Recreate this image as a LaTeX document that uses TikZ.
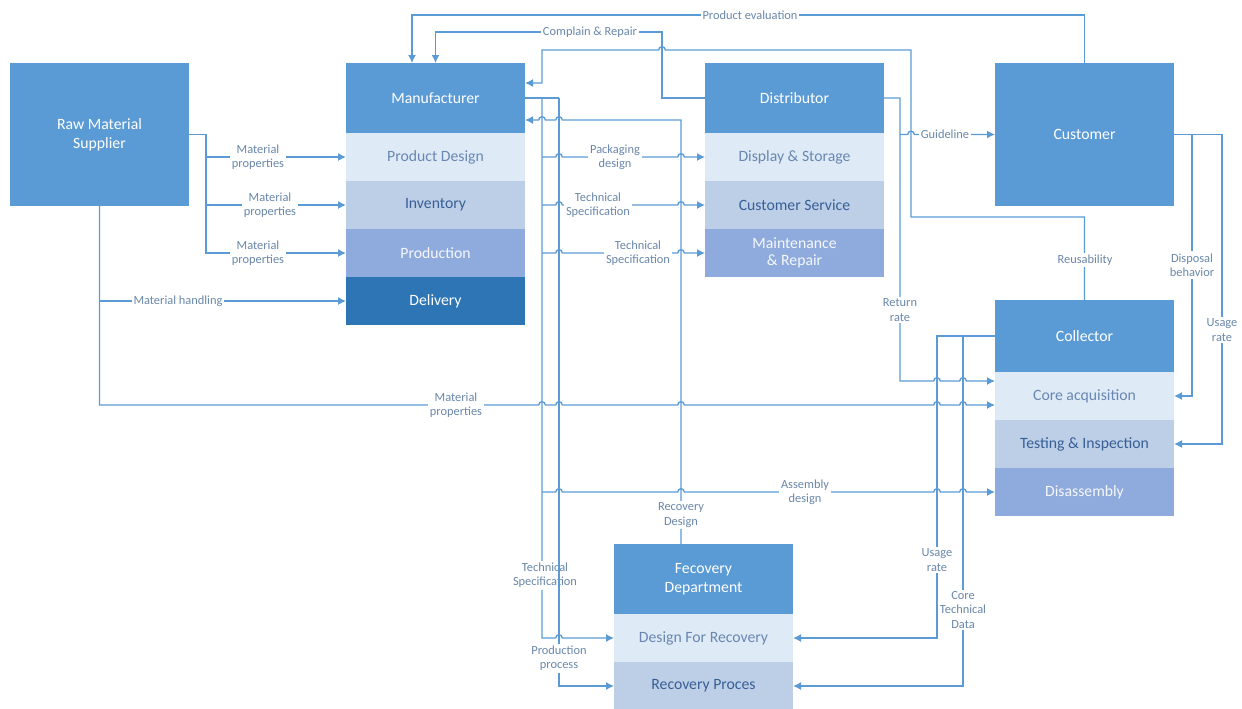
\documentclass[tikz,border=0pt]{standalone}
\usepackage{fontspec}
\setmainfont{Carlito}
\usetikzlibrary{positioning,arrows.meta}
\definecolor{hdr}{RGB}{91,155,213}
\definecolor{rowA}{RGB}{222,234,246}
\definecolor{rowB}{RGB}{189,206,231}
\definecolor{rowC}{RGB}{143,170,220}
\definecolor{rowD}{RGB}{46,117,182}
\definecolor{wire}{RGB}{91,155,213}
\definecolor{lbltxt}{RGB}{105,135,170}
\definecolor{rowAtxt}{RGB}{105,135,178}
\definecolor{rowBtxt}{RGB}{55,95,150}
% hops over a crossing line
\newcommand{\jr}[1]{-- ([xshift=-2.5pt]#1) arc[start angle=180,end angle=0,radius=2.5pt]}
\newcommand{\jl}[1]{-- ([xshift=2.5pt]#1) arc[start angle=0,end angle=180,radius=2.5pt]}
\begin{document}
\begin{tikzpicture}[x=0.75pt, y=-0.75pt, >={Latex[length=6pt,width=6pt]},
    color=wire, line width=1pt,
    box/.style={rectangle, fill=hdr, text=white, minimum width=134.25pt, inner sep=0pt,
      outer sep=0pt, align=center, font=\fontsize{11.8}{14}\selectfont},
    head/.style={box, minimum height=52.5pt},
    big/.style={box, minimum height=107.25pt},
    rowa/.style={box, minimum height=36pt, fill=rowA, text=rowAtxt},
    rowb/.style={box, minimum height=36pt, fill=rowB, text=rowBtxt},
    rowc/.style={box, minimum height=36pt, fill=rowC, text=white!92!rowC},
    rowd/.style={box, minimum height=36pt, fill=rowD},
    lbl/.style={fill=white, text=lbltxt, inner sep=1.5pt, align=center,
      font=\fontsize{9.3}{10.8}\selectfont}]
  \useasboundingbox (0,0) rectangle (1242,708);
  % blocks
  \node[big, anchor=north west] (sup) at (10,63) {Raw Material\\Supplier};
  \node[head, anchor=north west] (man) at (346,63) {Manufacturer};
  \node[rowa, below=0pt of man] (pd) {Product Design};
  \node[rowb, below=0pt of pd] (inv) {Inventory};
  \node[rowc, below=0pt of inv] (prod) {Production};
  \node[rowd, below=0pt of prod] (deliv) {Delivery};
  \node[head, anchor=north west] (dist) at (705,63) {Distributor};
  \node[rowa, below=0pt of dist] (disp) {Display \& Storage};
  \node[rowb, below=0pt of disp] (csrv) {Customer Service};
  \node[rowc, below=0pt of csrv, font=\fontsize{11.8}{13}\selectfont] (maint) {Maintenance\\\& Repair};
  \node[big, anchor=north west] (cust) at (995,63) {Customer};
  \node[head, anchor=north west, minimum height=54pt] (coll) at (995,300) {Collector};
  \node[rowa, below=0pt of coll] (core) {Core acquisition};
  \node[rowb, below=0pt of core] (test) {Testing \& Inspection};
  \node[rowc, below=0pt of test] (disas) {Disassembly};
  \node[head, anchor=north west] (rdep) at (614,544) {Fecovery\\Department};
  \node[rowa, below=0pt of rdep] (dfr) {Design For Recovery};
  \node[rowb, below=0pt of dfr] (rproc) {Recovery Proces};
  % supplier to manufacturer and collector
  \coordinate (sx) at (206,134.5);
  \coordinate (sb) at (99.5,405);
  \draw[->] (sup.east) -- (sx) |- (prod.west);
  \draw[->] (sx |- pd.west) -- (pd.west);
  \draw[->] (sx |- inv.west) -- (inv.west);
  \draw[->] (sup.south) |- (deliv.west);
  \draw[->] (sup.south) -- (sb) \jr{542,405} \jr{559,405} \jr{681,405} \jr{937,405} \jr{963,405} -- (995,405);
  \node[lbl] at (258,157) {Material\\properties};
  \node[lbl] at (270,205) {Material\\properties};
  \node[lbl] at (258,253) {Material\\properties};
  \node[lbl] at (178,301) {Material handling};
  \node[lbl] at (456,405) {Material\\properties};
  % manufacturer outputs
  \coordinate (m1) at (542,98);
  \coordinate (m2) at (559,98);
  \draw (man.east) -- (m2);
  \draw[->] (m1) -- (542,638) \jr{559,638} -- (dfr.west);
  \node[lbl] at (545,575) {Technical\\Specification};
  \draw[->] (m2) |- (rproc.west);
  \draw[->] (542,157) \jr{559,157} \jr{681,157} -- (disp.west);
  \draw[->] (542,205) \jr{559,205} \jr{681,205} -- (csrv.west);
  \draw[->] (542,253) \jr{559,253} \jr{681,253} -- (maint.west);
  \draw[->] (542,492) \jr{559,492} \jr{681,492} \jr{937,492} \jr{963,492} -- (disas.west);
  \node[lbl] at (615,157) {Packaging\\design};
  \node[lbl] at (598,205) {Technical\\Specification};
  \node[lbl] at (638,253) {Technical\\Specification};
  \node[lbl] at (805,492) {Assembly\\design};
  \node[lbl] at (559,658) {Production\\process};
  % feedback to manufacturer
  \coordinate (rv) at (681,544);
  \draw[->] (rv) -- (681,120) \jl{559,120} \jl{542,120} -- (525,120);
  \node[lbl] at (681,515) {Recovery\\Design};
  \draw[->] (dist.west) -- (662,98) -- (662,32) -| (man.north);
  \node[lbl] at (590,32) {Complain \& Repair};
  \draw[->] (cust.north) |- (412,15) -- (412,63);
  \node[lbl] at (750,15) {Product evaluation};
  \draw[->] (coll.north) |- (911,217) -- (911,50) \jl{662,50} -- (542,50) -- (542,83) -- (525,83);
  \node[lbl] at (1085,260) {Reusability};
  % distributor outputs
  \draw[->] (dist.east) -- (900,98) -- (900,381) \jr{937,381} \jr{963,381} -- (995,381);
  \draw[->] (900,134.5) \jr{911,134.5} -- (cust.west);
  \node[lbl] at (900,310) {Return\\rate};
  \node[lbl] at (945,134.5) {Guideline};
  % customer to collector
  \draw[->] (cust.east) -- (1192,134.5) |- (core.east);
  \draw[->] (1192,134.5) -- (1222,134.5) |- (test.east);
  \node[lbl] at (1192,265) {Disposal\\behavior};
  \node[lbl] at (1222,330) {Usage\\rate};
  % collector to recovery department
  \draw[->] (coll.west) -- (937,336) |- (dfr.east);
  \draw[->] (963,336) |- (rproc.east);
  \node[lbl] at (937,560) {Usage\\rate};
  \node[lbl] at (963,610) {Core\\Technical\\Data};
\end{tikzpicture}
\end{document}
